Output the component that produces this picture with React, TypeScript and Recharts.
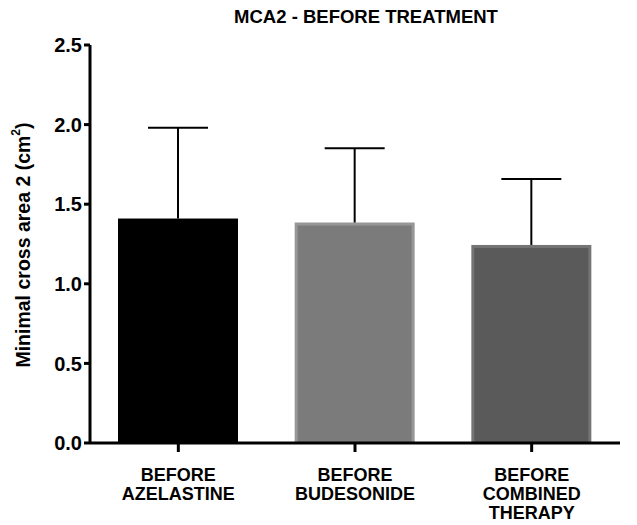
import React from "react";
import { BarChart, Bar, XAxis, YAxis, Cell } from "recharts";

const categories = ["BEFORE\nAZELASTINE", "BEFORE\nBUDESONIDE", "BEFORE\nCOMBINED\nTHERAPY"];
const means = [1.41, 1.385, 1.244];
const errUp = [0.57, 0.467, 0.414];
const yTicks = [0, 0.5, 1.0, 1.5, 2.0, 2.5];

const FILLS = ["#000000", "#7b7b7b", "#5a5a5a"];
const EDGES = ["#000000", "#979797", "#747474"];
const FONT = "'Liberation Sans', Arial, sans-serif";

const data = categories.map((name, i) => ({ name, mean: means[i], err: errUp[i], idx: i }));

// bar rect + upward-only SD whisker, scaled from the bar's own pixel height
const BarWithError = (props: any) => {
  const { x, y, width, height, payload } = props;
  const i = payload.idx;
  const perUnit = height / payload.mean;
  const top = y - payload.err * perUnit;
  const cx = x + width / 2;
  const cap = width / 2;
  return (
    <g>
      <rect x={x} y={y} width={width} height={height} fill={EDGES[i]} />
      <rect x={x + 3} y={y + 3} width={width - 6} height={height - 3} fill={FILLS[i]} />
      <line x1={cx} y1={y} x2={cx} y2={top} stroke="#000" strokeWidth={2} />
      <line x1={cx - cap / 2} y1={top} x2={cx + cap / 2} y2={top} stroke="#000" strokeWidth={2} />
    </g>
  );
};

const XTick = (props: any) => {
  const { x, y, payload } = props;
  const lines = String(payload.value).split("\n");
  return (
    <text x={x} y={y} textAnchor="middle" fontFamily={FONT} fontWeight="bold" fontSize={18} fill="#000">
      {lines.map((l, k) => (
        <tspan key={k} x={x} dy={k === 0 ? 27 : 19}>
          {l}
        </tspan>
      ))}
    </text>
  );
};

const YLabel = () => (
  <text
    x={23}
    y={245}
    transform="rotate(-90 23 245)"
    textAnchor="middle"
    dominantBaseline="central"
    fontFamily={FONT}
    fontWeight="bold"
    fontSize={19.5}
    fill="#000"
  >
    Minimal cross area 2 (cm
    <tspan dy={-7} fontSize={12}>2</tspan>
    <tspan dy={7}>)</tspan>
  </text>
);

export default function App() {
  return (
    <div style={{ position: "relative", width: 637, height: 525, background: "#fff" }}>
      <style>{"body{margin:0}"}</style>
      <div
        style={{
          position: "absolute",
          top: 6,
          left: 0,
          width: 637,
          paddingLeft: 95,
          boxSizing: "border-box",
          textAlign: "center",
          fontFamily: FONT,
          fontWeight: "bold",
          fontSize: 18.5,
          color: "#000",
        }}
      >
        MCA2 - BEFORE TREATMENT
      </div>
      <BarChart
        width={637}
        height={525}
        data={data}
        margin={{ top: 45, right: 17, bottom: 0, left: 30 }}
        barSize={120}
      >
        <XAxis
          dataKey="name"
          height={82}
          axisLine={{ stroke: "#000", strokeWidth: 3 }}
          tickLine={{ stroke: "#000", strokeWidth: 3 }}
          tickSize={9}
          tick={<XTick />}
          interval={0}
        />
        <YAxis
          width={60}
          domain={[0, 2.5]}
          ticks={yTicks}
          tickFormatter={(v: number) => v.toFixed(1)}
          axisLine={{ stroke: "#000", strokeWidth: 3 }}
          tickLine={{ stroke: "#000", strokeWidth: 3 }}
          tickSize={6}
          tickMargin={2}
          tick={{ fill: "#000", fontFamily: FONT, fontWeight: "bold", fontSize: 20 }}
          label={<YLabel />}
        />
        <Bar dataKey="mean" shape={<BarWithError />} isAnimationActive={false}>
          {data.map((d, i) => (
            <Cell key={i} fill={FILLS[i]} />
          ))}
        </Bar>
      </BarChart>
    </div>
  );
}
